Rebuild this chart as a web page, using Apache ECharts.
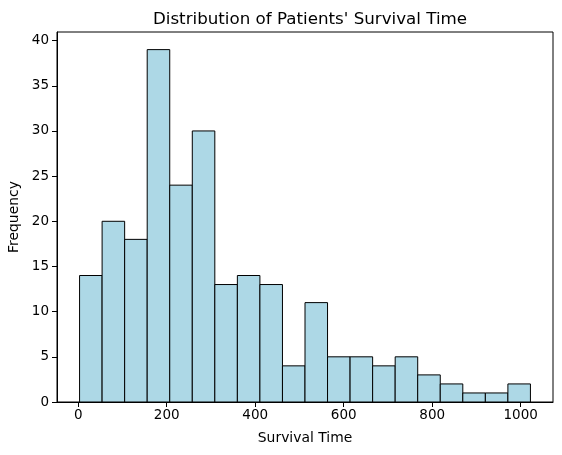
<!DOCTYPE html>
<html>
<head>
<meta charset="utf-8">
<script src="https://cdn.jsdelivr.net/npm/echarts@6/dist/echarts.min.js"></script>
<style>
  html, body { margin: 0; padding: 0; background: #fff; }
  #chart { width: 562px; height: 455px; }
</style>
</head>
<body>
<div id="chart"></div>
<script>
// histogram data
let counts = [14, 20, 18, 39, 24, 30, 13, 14, 13, 4, 11, 5, 5, 4, 5, 3, 2, 1, 1, 2];
let binStart = 3;     // left edge of first bin
let binEnd = 1022;    // right edge of last bin
let xTicks = [0, 200, 400, 600, 800, 1000];
let yTicks = [0, 5, 10, 15, 20, 25, 30, 35, 40];

let binW = (binEnd - binStart) / counts.length;
let bins = counts.map((c, i) => [binStart + i * binW, binStart + (i + 1) * binW, c]);

let font = 'DejaVu Sans';

let option = {
    animation: false,
    title: {
        text: "Distribution of Patients' Survival Time",
        left: 305,
        textAlign: 'center',
        top: 6,
        textStyle: { fontFamily: font, fontSize: 16.7, fontWeight: 'normal', color: '#000' }
    },
    grid: {
        left: 57, right: 9, top: 32, bottom: 53,
        outerBoundsMode: 'none',
        containLabel: false,
        show: true,
        borderColor: '#000',
        borderWidth: 1
    },
    xAxis: {
        type: 'value',
        min: -48,
        max: 1073,
        name: 'Survival Time',
        nameLocation: 'middle',
        nameGap: 29,
        nameTextStyle: { fontFamily: font, fontSize: 13.9, color: '#000' },
        splitLine: { show: false },
        axisLine: { show: true, onZero: false, lineStyle: { color: '#000' } },
        axisTick: { show: true, length: 5, inside: false, customValues: xTicks, lineStyle: { color: '#000' } },
        axisLabel: { customValues: xTicks, formatter: v => String(v), fontFamily: font, fontSize: 13.5, color: '#000', margin: 6 }
    },
    yAxis: {
        type: 'value',
        min: 0,
        max: 40.95,
        name: 'Frequency',
        nameLocation: 'middle',
        nameGap: 35,
        nameRotate: 90,
        nameTextStyle: { fontFamily: font, fontSize: 13.9, color: '#000' },
        splitLine: { show: false },
        axisLine: { show: true, onZero: false, lineStyle: { color: '#000' } },
        axisTick: { show: true, length: 5, inside: false, customValues: yTicks, lineStyle: { color: '#000' } },
        axisLabel: { customValues: yTicks, formatter: v => String(v), fontFamily: font, fontSize: 13.5, color: '#000', margin: 8 }
    },
    series: [
        {
            type: 'custom',
            data: bins,
            renderItem: function (params, api) {
                let p0 = api.coord([api.value(0), api.value(2)]);
                let p1 = api.coord([api.value(1), 0]);
                return {
                    type: 'rect',
                    shape: { x: p0[0], y: p0[1], width: p1[0] - p0[0], height: p1[1] - p0[1] },
                    style: { fill: '#add8e6', stroke: '#000', lineWidth: 1 }
                };
            }
        }
    ]
};

let mychart = echarts.init(document.getElementById('chart'));
mychart.setOption(option);
</script>
</body>
</html>
